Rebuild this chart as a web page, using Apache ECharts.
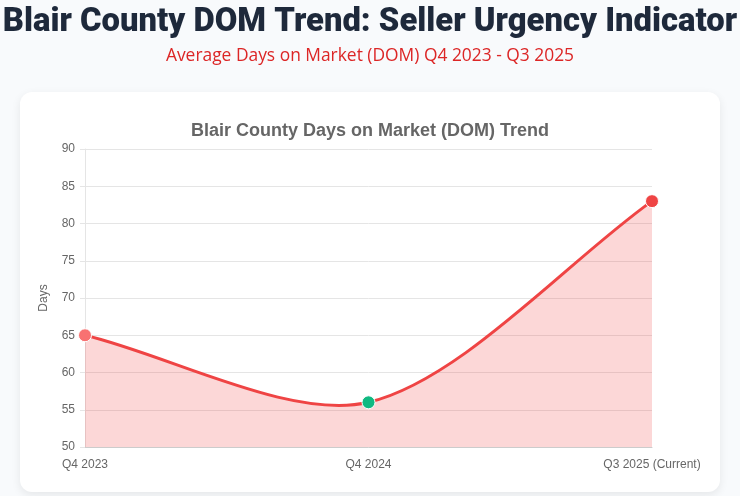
<!DOCTYPE html>
<html><head><meta charset="utf-8">
<script src="https://cdn.jsdelivr.net/npm/echarts@6/dist/echarts.min.js"></script>
<style>html,body{margin:0;padding:0;background:#f8fafc;}#c{width:740px;height:496px;}</style>
</head><body><div id="c"></div>
<script>
const categories = ['Q4 2023', 'Q4 2024', 'Q3 2025 (Current)'];
const domValues = [65, 56, 83];
const pointColors = ['#f87171', '#10b981', '#ef4444'];
const TENSION = 0.3;

function controlPoints(pts) {
  const cps = pts.map(() => ({prev: null, next: null}));
  for (let i = 0; i < pts.length; i++) {
    const first = pts[i - 1] || pts[i], mid = pts[i], after = pts[i + 1] || pts[i];
    const d01 = Math.hypot(mid[0] - first[0], mid[1] - first[1]);
    const d12 = Math.hypot(after[0] - mid[0], after[1] - mid[1]);
    let s01 = d01 / (d01 + d12), s12 = d12 / (d01 + d12);
    if (isNaN(s01)) s01 = 0; if (isNaN(s12)) s12 = 0;
    const fa = TENSION * s01, fb = TENSION * s12;
    cps[i].prev = [mid[0] - fa * (after[0] - first[0]), mid[1] - fa * (after[1] - first[1])];
    cps[i].next = [mid[0] + fb * (after[0] - first[0]), mid[1] + fb * (after[1] - first[1])];
  }
  return cps;
}

function renderCurve(params, api) {
  if (params.dataIndex !== 0) return null;
  const pts = domValues.map((v, i) => api.coord([i, v]));
  const cps = controlPoints(pts);
  const baseY = api.coord([0, 50])[1];
  let d = 'M' + pts[0][0] + ' ' + pts[0][1];
  for (let i = 0; i < pts.length - 1; i++) {
    const c1 = cps[i].next, c2 = cps[i + 1].prev, b = pts[i + 1];
    d += ' C' + c1[0] + ' ' + c1[1] + ' ' + c2[0] + ' ' + c2[1] + ' ' + b[0] + ' ' + b[1];
  }
  const areaD = d + ' L' + pts[pts.length - 1][0] + ' ' + baseY + ' L' + pts[0][0] + ' ' + baseY + ' Z';
  return {
    type: 'group',
    children: [
      {type: 'path', shape: {pathData: areaD}, style: {fill: 'rgba(239,68,68,0.21)', stroke: null}},
      {type: 'path', shape: {pathData: d}, style: {fill: null, stroke: '#ef4444', lineWidth: 3}}
    ]
  };
}

const chart = echarts.init(document.getElementById('c'));
chart.setOption({
  animation: false,
  backgroundColor: '#f8fafc',
  graphic: [{
    type: 'rect', shape: {x: 20, y: 92, width: 700, height: 400, r: 12}, z: -10,
    style: {fill: '#ffffff', shadowBlur: 10, shadowColor: 'rgba(0,0,0,0.08)', shadowOffsetY: 3}
  }],
  title: [
    {text: 'Blair County DOM Trend: Seller Urgency Indicator', left: 'center', top: 1,
     textStyle: {fontFamily: 'Roboto', fontWeight: 900, fontSize: 32.8, color: '#1e293b'}},
    {text: 'Average Days on Market (DOM) Q4 2023 - Q3 2025', left: 'center', top: 43,
     textStyle: {fontFamily: 'Open Sans', fontWeight: 'normal', fontSize: 17.4, color: '#dc2626'}},
    {text: 'Blair County Days on Market (DOM) Trend', left: 'center', top: 117,
     textStyle: {fontFamily: 'Liberation Sans', fontWeight: 'bold', fontSize: 18, color: '#666666'}}
  ],
  grid: {left: 85, right: 88, top: 149, bottom: 49},
  xAxis: {
    type: 'category', data: categories, boundaryGap: false,
    axisLine: {lineStyle: {color: '#cccccc'}},
    axisTick: {show: false},
    axisLabel: {color: '#666666', fontFamily: 'Liberation Sans', fontSize: 12, margin: 12}
  },
  yAxis: {
    type: 'value', min: 50, max: 90, interval: 5,
    name: 'Days', nameLocation: 'middle', nameGap: 35,
    nameTextStyle: {color: '#666666', fontFamily: 'Liberation Sans', fontSize: 12},
    axisLine: {show: true, lineStyle: {color: '#e5e5e5'}},
    axisTick: {show: true, length: 5, lineStyle: {color: '#e5e5e5'}},
    splitLine: {lineStyle: {color: '#e5e5e5'}},
    axisLabel: {color: '#666666', fontFamily: 'Liberation Sans', fontSize: 12, margin: 10}
  },
  series: [
    {type: 'custom', data: domValues, renderItem: renderCurve, clip: false, z: 2},
    {
      type: 'line', data: domValues.map((v, i) => ({value: v, itemStyle: {color: pointColors[i]}})),
      symbol: 'circle', symbolSize: 13, z: 3,
      lineStyle: {opacity: 0},
      itemStyle: {borderColor: '#ffffff', borderWidth: 1}
    }
  ]
});
</script></body></html>
